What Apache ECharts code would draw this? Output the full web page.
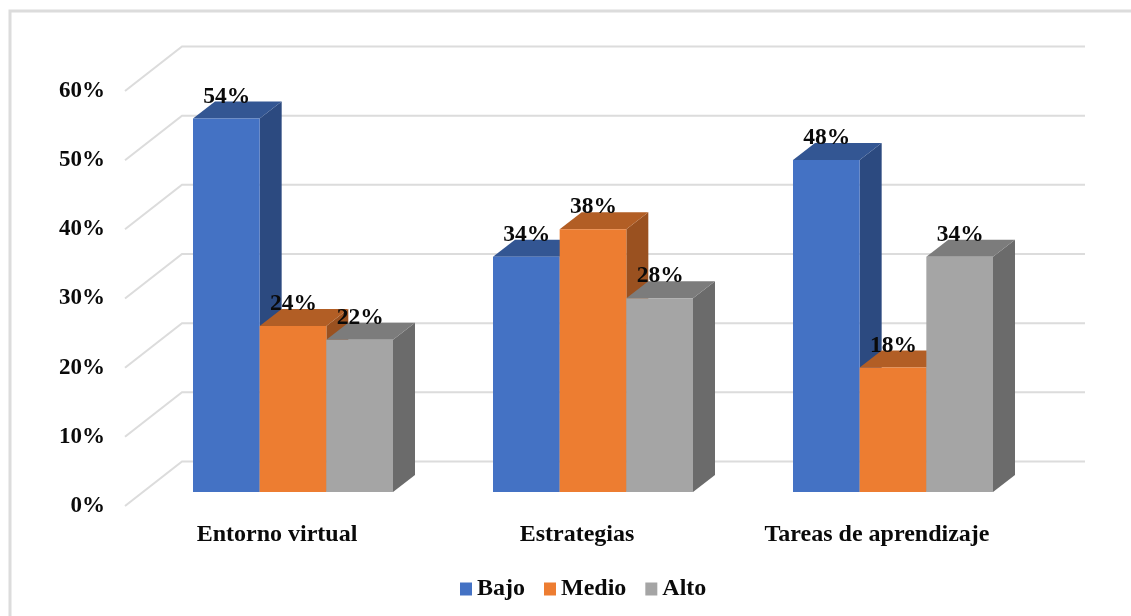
<!DOCTYPE html>
<html>
<head>
<meta charset="utf-8">
<style>html,body{margin:0;padding:0;background:#fff}#c{width:1131px;height:616px}</style>
<script src="https://cdn.jsdelivr.net/npm/echarts@6/dist/echarts.min.js"></script>
</head>
<body>
<div id="c"></div>
<script>
const categories = ['Entorno virtual', 'Estrategias', 'Tareas de aprendizaje'];
const bajo = [54, 34, 48];
const medio = [24, 38, 18];
const alto = [22, 28, 34];
const ticks = [0, 10, 20, 30, 40, 50, 60];

const FONT = '"Liberation Serif","Times New Roman",serif';
const chart = echarts.init(document.getElementById('c'), null, {renderer: 'canvas'});

function barSeries(name, values, idx, front, top, side) {
  return {
    name, type: 'custom', coordinateSystem: 'cartesian2d', clip: false, z: 3 + idx,
    itemStyle: {color: front},
    data: values.map((v, i) => [i, v]),
    encode: {x: 0, y: 1},
    renderItem(params, api) {
      const cat = api.value(0), v = api.value(1);
      const band = api.size([1, 0])[0];
      const w = band * 2 / 9;
      const c = api.coord([cat, v]);
      const base = api.coord([cat, 0]);
      const x0 = c[0] - band / 3 + idx * w, x1 = x0 + w;
      const yT = c[1], yB = base[1], dx = 22, dy = -17;
      return {type: 'group', children: [
        {type: 'polygon', shape: {points: [[x1, yT], [x1 + dx, yT + dy], [x1 + dx, yB + dy], [x1, yB]]}, style: {fill: side}},
        {type: 'polygon', shape: {points: [[x0, yT], [x0 + dx, yT + dy], [x1 + dx, yT + dy], [x1, yT]]}, style: {fill: top}},
        {type: 'rect', shape: {x: x0, y: yT, width: w, height: yB - yT}, style: {fill: front}},
        {type: 'text', z2: 50, style: {text: v + '%', x: (x0 + x1) / 2 + 0.5, y: yT - 22, align: 'center', verticalAlign: 'middle', fill: '#0a0a0a', font: 'bold 23.5px ' + FONT}}
      ]};
    }
  };
}

chart.setOption({
  animation: false,
  backgroundColor: '#fff',
  graphic: [{type: 'rect', shape: {x: 10, y: 11, width: 1130, height: 620}, style: {fill: 'none', stroke: '#dcdcdc', lineWidth: 3}, silent: true, z: 0}],
  grid: {left: 143, right: 88, top: 77, bottom: 124, containLabel: false},
  legend: {
    data: ['Bajo', 'Medio', 'Alto'], icon: 'rect', left: 460, top: 577,
    itemWidth: 12, itemHeight: 13, itemGap: 19, padding: 0,
    textStyle: {fontFamily: FONT, fontWeight: 'bold', fontSize: 24, color: '#0a0a0a'}
  },
  xAxis: {
    type: 'category', data: categories,
    axisLine: {show: false}, axisTick: {show: false}, splitLine: {show: false},
    axisLabel: {margin: 31, fontFamily: FONT, fontWeight: 'bold', fontSize: 24, color: '#0a0a0a', padding: [0, 32, 0, 0], interval: 0}
  },
  yAxis: {
    type: 'value', min: 0, max: 60, interval: 10,
    axisLine: {show: false}, axisTick: {show: false}, splitLine: {show: false},
    axisLabel: {margin: 38, formatter: '{value}%', fontFamily: FONT, fontWeight: 'bold', fontSize: 23, color: '#0a0a0a', verticalAlign: 'top', lineHeight: 28}
  },
  series: [
    {
      type: 'custom', coordinateSystem: 'cartesian2d', clip: false, z: 1, silent: true,
      data: ticks.map(t => [0, t]), encode: {x: 0, y: 1},
      renderItem(params, api) {
        const y = api.coord([0, api.value(1)])[1];
        const L = params.coordSys.x, R = L + params.coordSys.width;
        return {type: 'polyline', shape: {points: [[L - 18, y + 14], [L + 39, y - 30.5], [R + 42, y - 30.5]]},
          style: {fill: 'none', stroke: '#dcdcdc', lineWidth: 2}};
      }
    },
    barSeries('Bajo', bajo, 0, '#4472C4', '#335693', '#2C4A80'),
    barSeries('Medio', medio, 1, '#ED7D31', '#B25E25', '#9A5120'),
    barSeries('Alto', alto, 2, '#A5A5A5', '#7C7C7C', '#6B6B6B')
  ]
});
</script>
</body>
</html>
